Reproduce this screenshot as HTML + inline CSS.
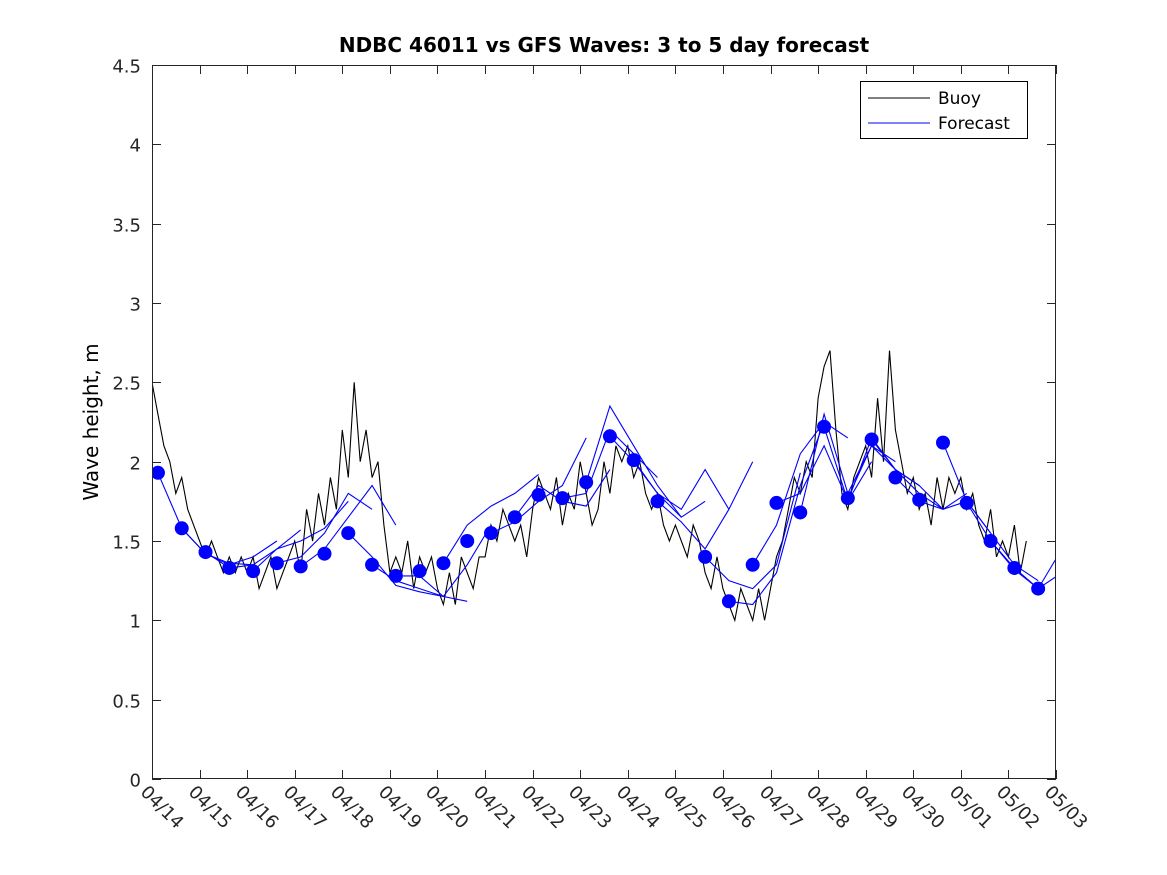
<!DOCTYPE html>
<html><head><meta charset="utf-8">
<style>
html,body{margin:0;padding:0;background:#fff;}
svg{display:block;font-family:"DejaVu Sans","Liberation Sans",sans-serif;}
</style></head>
<body>
<svg id="chart" width="1167" height="875" viewBox="0 0 1167 875">
<rect x="0" y="0" width="1167" height="875" fill="#fff"/>
<text x="604" y="52" text-anchor="middle" font-size="20" font-weight="bold">NDBC 46011 vs GFS Waves: 3 to 5 day forecast</text>
<text transform="translate(98,422) rotate(-90)" text-anchor="middle" font-size="20">Wave height, m</text>
<defs><clipPath id="plotclip"><rect x="152" y="65" width="904" height="714"/></clipPath></defs>
<g id="plot" clip-path="url(#plotclip)"></g>
<g id="axes"></g>
<g>
<rect x="860.5" y="81.5" width="167" height="57" fill="#fff" stroke="#000" stroke-width="1"/>
<line x1="868" y1="98" x2="930" y2="98" stroke="#000" stroke-width="1"/>
<text x="938" y="104" font-size="17">Buoy</text>
<line x1="868" y1="123" x2="930" y2="123" stroke="#00f" stroke-width="1"/>
<text x="938" y="129" font-size="17">Forecast</text>
</g>
</svg>
<script>
const xTickLabels = ["04/14","04/15","04/16","04/17","04/18","04/19","04/20","04/21","04/22","04/23","04/24","04/25","04/26","04/27","04/28","04/29","04/30","05/01","05/02","05/03"];
const yTicks = [0,0.5,1,1.5,2,2.5,3,3.5,4,4.5];
// buoy: 3-hourly from 04/14 00:00
const buoy = [2.5,2.3,2.1,2.0,1.8,1.9,1.7,1.6, 1.5,1.4,1.5,1.4,1.3,1.4,1.3,1.4, 1.3,1.4,1.2,1.3,1.4,1.2,1.3,1.4,
 1.5,1.3,1.7,1.5,1.8,1.6,1.9,1.7, 2.2,1.9,2.5,2.0,2.2,1.9,2.0,1.6, 1.3,1.4,1.3,1.5,1.2,1.4,1.3,1.4,
 1.2,1.1,1.3,1.1,1.4,1.3,1.2,1.4, 1.4,1.6,1.5,1.7,1.6,1.5,1.6,1.4, 1.7,1.9,1.8,1.7,1.9,1.6,1.8,1.7,
 2.0,1.8,1.6,1.7,2.0,1.8,2.1,2.0, 2.1,1.9,2.0,1.8,1.7,1.8,1.6,1.5, 1.6,1.5,1.4,1.6,1.5,1.3,1.2,1.4,
 1.2,1.1,1.0,1.2,1.1,1.0,1.2,1.0, 1.2,1.4,1.5,1.7,1.9,1.8,2.0,1.9, 2.4,2.6,2.7,2.2,1.8,1.7,1.9,2.0,
 2.1,1.9,2.4,2.0,2.7,2.2,2.0,1.8, 1.9,1.7,1.8,1.6,1.9,1.7,1.9,1.8, 1.9,1.7,1.8,1.6,1.5,1.7,1.4,1.5,
 1.4,1.6,1.3,1.5];
// forecast dots: every half day starting at day 0.125
const dotDayStart = 0.125;
const dotValues = [1.93,1.58,1.43,1.33,1.31,1.36,1.34,1.42,1.55,1.35,1.28,1.31,1.36,1.50,1.55,1.65,1.79,1.77,1.87,2.16,2.01,1.75,null,1.40,1.12,1.35,1.74,1.68,2.22,1.77,2.14,1.90,1.76,2.12,1.74,1.50,1.33,1.20];
// forecast runs: start index (half-day grid), values each half day
const runStarts = [0,1,2,4,5,6,8,9,10,12,14,15,17,18,19,20,21,23,24,25,26,27,28,29,30,31,33,34,35];
const runValues = [
 [1.93,1.58,1.42,1.36,1.35],[1.58,1.42,1.35,1.40,1.50],[1.43,1.33,1.35,1.45,1.57],
 [1.31,1.45,1.50,1.58,1.75],[1.36,1.40,1.55,1.80,1.70],[1.34,1.45,1.65,1.85,1.60],
 [1.55,1.40,1.22,1.18,1.15],[1.35,1.25,1.20,1.15,1.12],[1.28,1.28,1.15,1.35,1.60],
 [1.36,1.60,1.72,1.80,1.92],[1.55,1.62,1.75,1.85,2.15],[1.65,1.85,1.75,1.72,1.95],
 [1.77,1.80,2.20,2.05,1.90],[1.87,2.35,2.10,1.85,1.65],[2.16,2.00,1.80,1.65,1.75],
 [2.01,1.80,1.70,1.95,1.70],[1.75,1.62,1.45,1.70,2.00],[1.40,1.25,1.20,1.35,1.93],
 [1.12,1.10,1.30,1.85,2.25],[1.35,1.60,2.05,2.25,2.15],[1.74,1.80,2.10,1.75,2.00],
 [1.68,2.30,1.80,2.10,2.00],[2.22,1.75,2.15,1.95,1.85],[1.77,2.10,1.95,1.85,1.70],
 [2.14,1.95,1.80,1.70,1.80],[1.90,1.75,1.70,1.75,1.55],[2.12,1.75,1.55,1.35,1.25],
 [1.74,1.50,1.32,1.20,1.45],[1.50,1.33,1.20,1.30,1.80]];

const X0=152,X1=1056,Y0=779,Y1=65,DAYS=19,YMAX=4.5;
const xs=d=>X0+(X1-X0)*d/DAYS;
const ys=v=>Y0-(Y0-Y1)*v/YMAX;
const NS="http://www.w3.org/2000/svg";
const plot=document.getElementById('plot'), axes=document.getElementById('axes');
function mk(t,a,p){const e=document.createElementNS(NS,t);for(const k in a)e.setAttribute(k,a[k]);p.appendChild(e);return e;}

let d='';buoy.forEach((v,i)=>{d+=(i?'L':'M')+xs(i/8).toFixed(1)+','+ys(v).toFixed(1);});
const bl=mk('path',{d:d,fill:'none',stroke:'#000','stroke-width':1.1},plot);



runStarts.forEach((s,r)=>{
  let p='';runValues[r].forEach((v,i)=>{p+=(i?'L':'M')+xs(dotDayStart+(s+i)*0.5).toFixed(1)+','+ys(v).toFixed(1);});
  const e=mk('path',{d:p,fill:'none',stroke:'#00f','stroke-width':1.1},plot);
  
  
});
dotValues.forEach((v,i)=>{
  if(v===null)return;
  const c=mk('circle',{cx:xs(dotDayStart+i*0.5),cy:ys(v),r:7,fill:'#00f'},plot);
  
  
});

const box=mk('rect',{x:152.5,y:65.5,width:903,height:713,fill:'none',stroke:'#262626','stroke-width':1},axes);


yTicks.forEach(v=>{
  const y=Math.round(ys(v))+0.5;
  mk('line',{x1:152,y1:y,x2:161,y2:y,stroke:'#262626'},axes);
  mk('line',{x1:1047,y1:y,x2:1056,y2:y,stroke:'#262626'},axes);
  const t=mk('text',{x:141,y:y+7,'text-anchor':'end','font-size':18,fill:'#262626'},axes);
  t.textContent=String(v);
  
  
});
xTickLabels.forEach((l,i)=>{
  const x=Math.round(xs(i))+0.5;
  mk('line',{x1:x,y1:779,x2:x,y2:770,stroke:'#262626'},axes);
  mk('line',{x1:x,y1:65,x2:x,y2:74,stroke:'#262626'},axes);
  const t=mk('text',{transform:`translate(${x-13},${793}) rotate(45)`,'font-size':18,fill:'#262626'},axes);
  t.textContent=l;
  
  
});
</script>
</body></html>
